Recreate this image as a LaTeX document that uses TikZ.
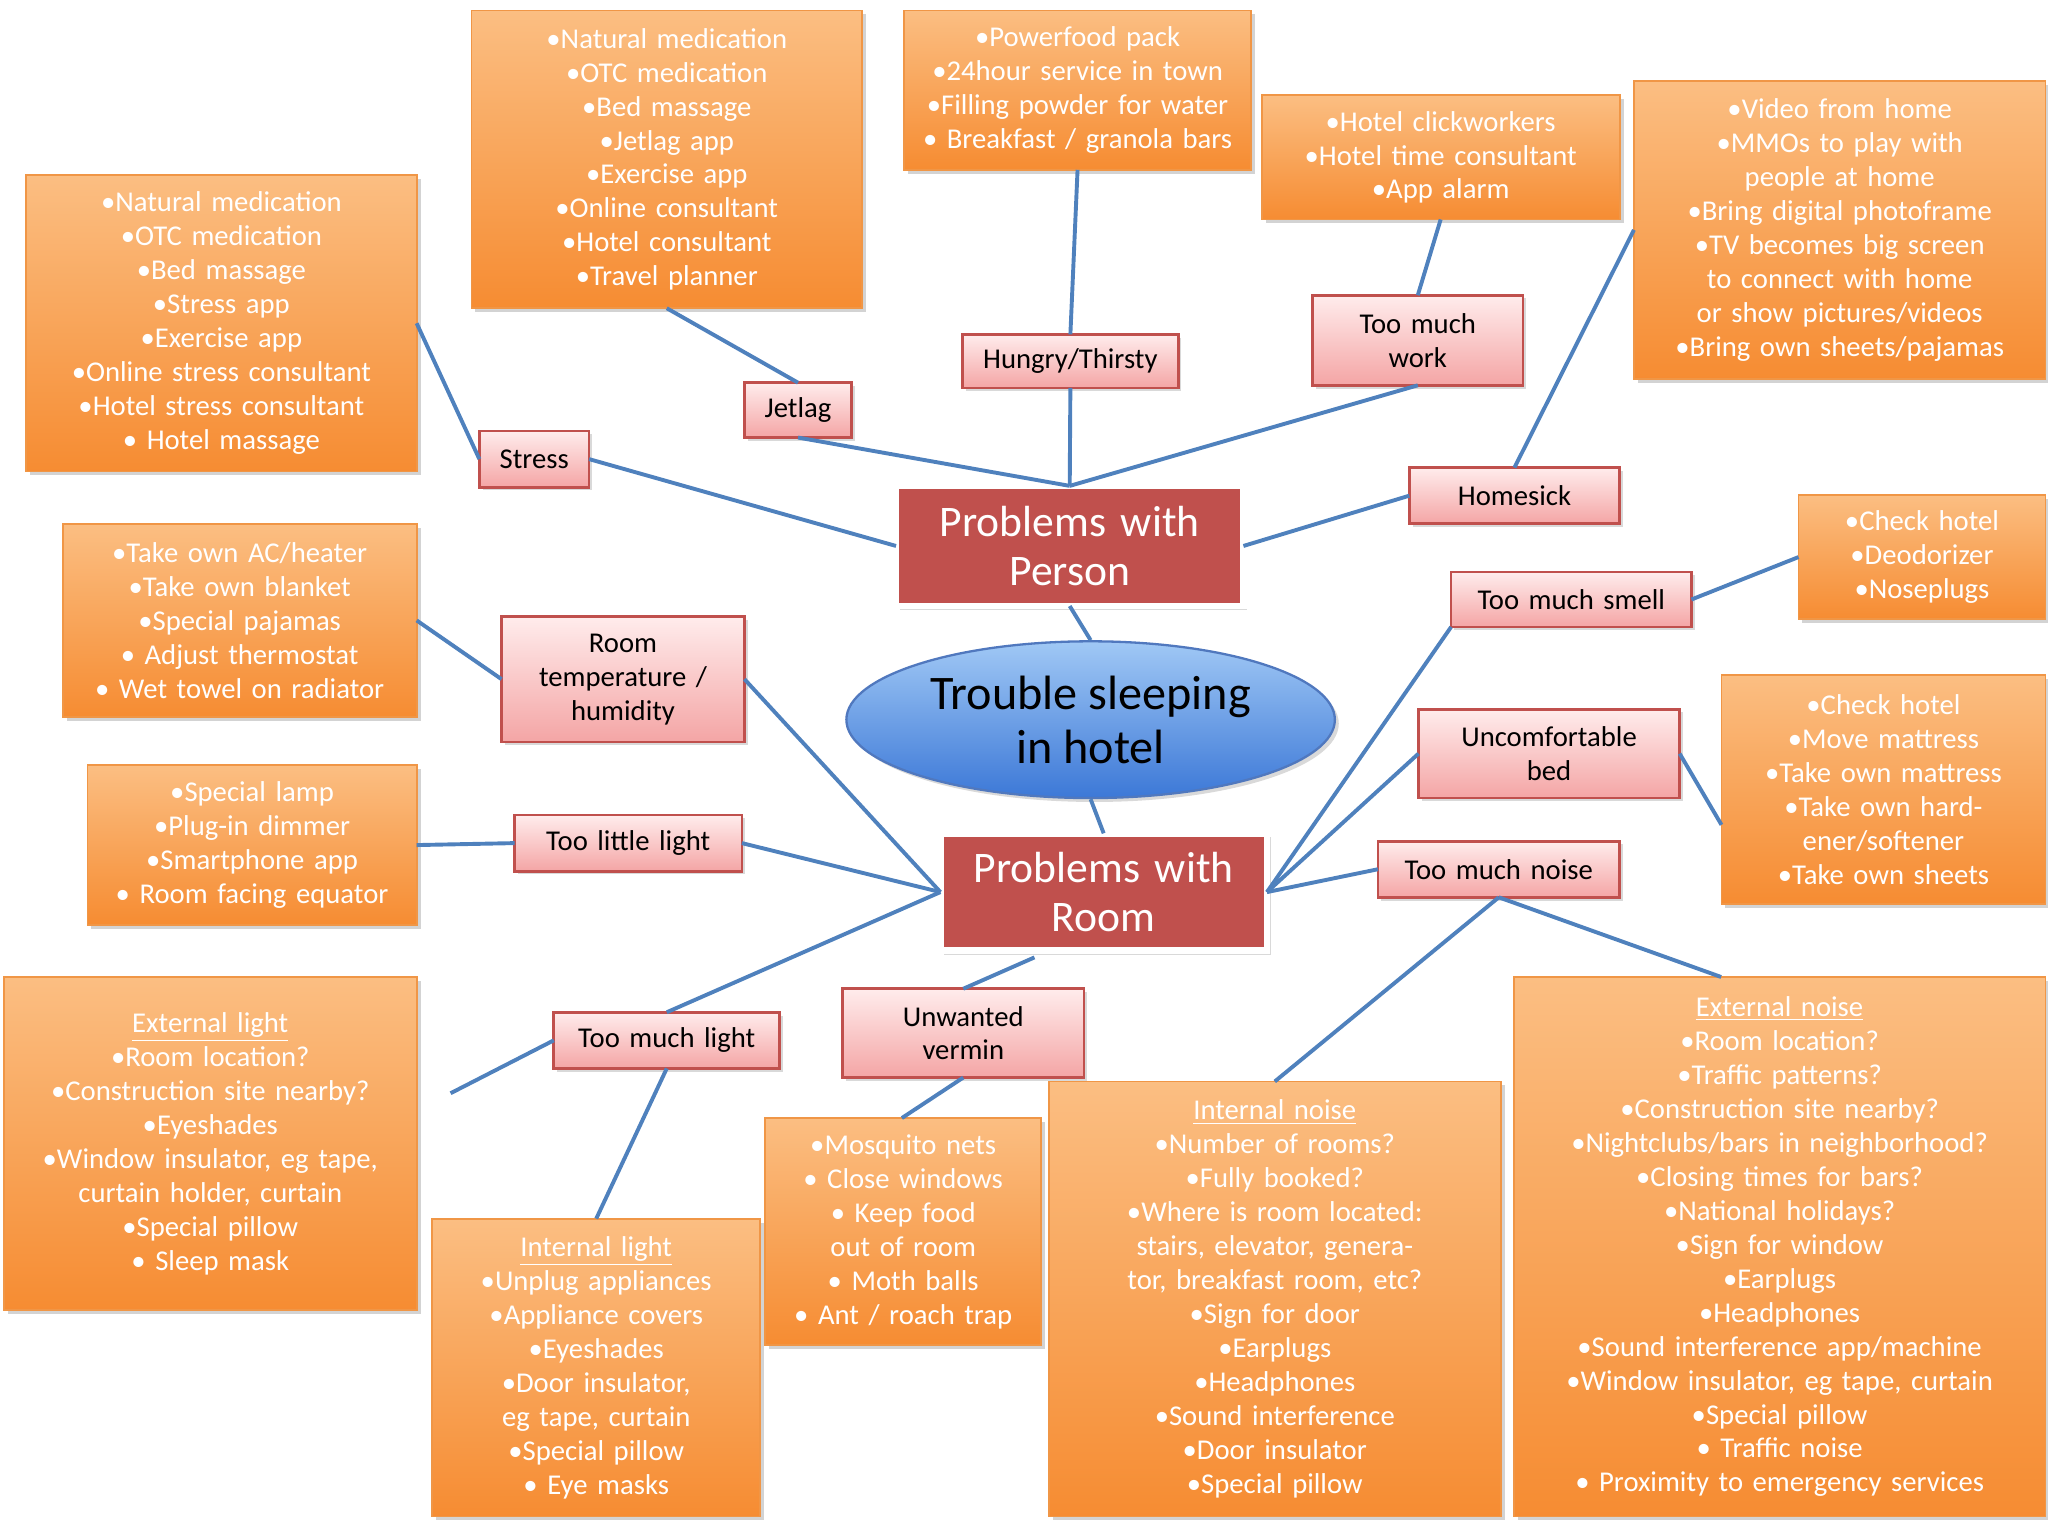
\documentclass[tikz,border=0pt]{standalone}
\usepackage{fontspec}
\setmainfont{Carlito}
\usetikzlibrary{shadows,calc,shapes.geometric}
\definecolor{lnc}{RGB}{79,129,189}
\definecolor{otop}{RGB}{251,190,130}
\definecolor{obot}{RGB}{246,140,50}
\definecolor{obrd}{RGB}{240,150,70}
\definecolor{ptop}{RGB}{255,236,236}
\definecolor{pbot}{RGB}{244,165,165}
\definecolor{pbrd}{RGB}{192,80,77}
\definecolor{rfill}{RGB}{192,80,77}
\newcommand\mybox[7]{%
 \pgfmathsetmacro\cx{(#3+#5)/2}\pgfmathsetmacro\cy{(#4+#6)/2}%
 \pgfmathsetmacro\ww{(#5-#3)*0.02}\pgfmathsetmacro\hh{(#6-#4)*0.02}%
 \pgfmathsetmacro\tw{(#5-#3)*0.02-0.2}%
 \node[#1, minimum width=\ww cm, minimum height=\hh cm, text width=\tw cm] (#2) at (\cx,\cy) {#7};}
\begin{document}
\begin{tikzpicture}[x=0.02cm,y=-0.02cm,
 ob/.style={draw=obrd,line width=0.8pt,top color=otop,bottom color=obot,inner sep=0pt,outer sep=0pt,align=center,text=white,font=\fontsize{12.5}{14.8}\selectfont,drop shadow={opacity=0.35,shadow xshift=0.06cm,shadow yshift=-0.06cm}},
 pb/.style={draw=pbrd,line width=1.2pt,top color=ptop,bottom color=pbot,inner sep=0pt,outer sep=0pt,align=center,text=black,font=\fontsize{12.5}{14.8}\selectfont,drop shadow={opacity=0.3,shadow xshift=0.05cm,shadow yshift=-0.05cm}},
 rb/.style={fill=rfill,draw=white,line width=3pt,inner sep=0pt,outer sep=0pt,align=center,text=white,font=\fontsize{19}{21}\selectfont,drop shadow={opacity=0.3,shadow xshift=0.06cm,shadow yshift=-0.06cm}},
 ln/.style={draw=lnc,line width=1.7pt}]
\useasboundingbox (0,0) rectangle (1568,1176);
% orange lists
\mybox{ob}{l1}{20}{134}{319}{361}{•Natural medication\\•OTC medication\\•Bed massage\\•Stress app\\•Exercise app\\•Online stress consultant\\•Hotel stress consultant\\• Hotel massage}
\mybox{ob}{l2}{361}{8}{660}{236}{•Natural medication\\•OTC medication\\•Bed massage\\•Jetlag app\\•Exercise app\\•Online consultant\\•Hotel consultant\\•Travel planner}
\mybox{ob}{l3}{692}{8}{958}{130}{•Powerfood pack\\•24hour service in town\\•Filling powder for water\\• Breakfast / granola bars}
\mybox{ob}{l4}{966}{73}{1240}{168}{•Hotel clickworkers\\•Hotel time consultant\\•App alarm}
\mybox{ob}{l5}{1251}{62}{1566}{290}{•Video from home\\•MMOs to play with people at home\\•Bring digital photoframe\\•TV becomes big screen to connect with home or show pictures/videos\\•Bring own sheets/pajamas}
\mybox{ob}{l6}{48}{401}{319}{549}{•Take own AC/heater\\•Take own blanket\\•Special pajamas\\• Adjust thermostat\\• Wet towel on radiator}
\mybox{ob}{l7}{67}{586}{319}{708}{•Special lamp\\•Plug-in dimmer\\•Smartphone app\\• Room facing equator}
\mybox{ob}{l8}{3}{748}{319}{1003}{\underline{External light}\\•Room location?\\•Construction site nearby?\\•Eyeshades\\•Window insulator, eg tape, curtain holder, curtain\\•Special pillow\\• Sleep mask}
\mybox{ob}{l9}{331}{933}{582}{1161}{\underline{Internal light}\\•Unplug appliances\\•Appliance covers\\•Eyeshades\\•Door insulator, eg tape, curtain\\•Special pillow\\• Eye masks}
\mybox{ob}{l10}{586}{856}{797}{1030}{•Mosquito nets\\• Close windows\\• Keep food out of room\\• Moth balls\\• Ant / roach trap}
\mybox{ob}{l11}{803}{828}{1149}{1161}{\underline{Internal noise}\\•Number of rooms?\\•Fully booked?\\•Where is room located: stairs, elevator, generator, breakfast room, etc?\\•Sign for door\\•Earplugs\\•Headphones\\•Sound interference\\•Door insulator\\•Special pillow}
\mybox{ob}{l12}{1159}{748}{1566}{1161}{\underline{External noise}\\•Room location?\\•Traffic patterns?\\•Construction site nearby?\\•Nightclubs/bars in neighborhood?\\•Closing times for bars?\\•National holidays?\\•Sign for window\\•Earplugs\\•Headphones\\•Sound interference app/machine\\•Window insulator, eg tape, curtain\\•Special pillow\\• Traffic noise\\• Proximity to emergency services}
\mybox{ob}{l13}{1377}{379}{1566}{474}{•Check hotel\\•Deodorizer\\•Noseplugs}
\mybox{ob}{l14}{1318}{517}{1566}{692}{•Check hotel\\•Move mattress\\•Take own mattress\\•Take own hardener/softener\\•Take own sheets}
% pink
\mybox{pb}{stress}{367}{330}{451}{373}{Stress}
\mybox{pb}{jetlag}{570}{293}{652}{335}{Jetlag}
\mybox{pb}{hungry}{737}{256}{902}{297}{Hungry/Thirsty}
\mybox{pb}{work}{1005}{226}{1166}{295}{Too much\\work}
\mybox{pb}{home}{1079}{358}{1240}{401}{Homesick}
\mybox{pb}{smell}{1111}{438}{1295}{480}{Too much smell}
\mybox{pb}{temp}{384}{472}{570}{568}{Room\\temperature /\\humidity}
\mybox{pb}{bed}{1086}{543}{1286}{611}{Uncomfortable\\bed}
\mybox{pb}{little}{394}{624}{568}{667}{Too little light}
\mybox{pb}{noise}{1055}{644}{1240}{687}{Too much noise}
\mybox{pb}{muchl}{424}{775}{597}{818}{Too much light}
\mybox{pb}{vermin}{645}{757}{830}{825}{Unwanted\\vermin}
% red
\mybox{rb}{person}{686}{372}{952}{464}{Problems with\\Person}
\mybox{rb}{room}{720}{638}{970}{728}{Problems with\\Room}
\node[ellipse,draw={rgb,255:red,80;green,120;blue,190},line width=1pt,top color={rgb,255:red,160;green,200;blue,245},bottom color={rgb,255:red,60;green,120;blue,215},minimum width=374*0.02cm,minimum height=120*0.02cm,inner sep=0pt,align=center,font=\fontsize{21}{23.5}\selectfont,drop shadow={opacity=0.3,shadow xshift=0.06cm,shadow yshift=-0.06cm}] (center) at (835,551) {Trouble sleeping\\in hotel};
% connectors
\coordinate (freel) at (345,837);
\coordinate (vroom) at (792,733);
\draw[ln] (l1.east) -- (stress.west);
\draw[ln] (stress.east) -- (person.west);
\draw[ln] (l2.south) -- (jetlag.north);
\draw[ln] (jetlag.south) -- (person.north);
\draw[ln] (l3.south) -- (hungry.north);
\draw[ln] (hungry.south) -- (person.north);
\draw[ln] (work.south) -- (person.north);
\draw[ln] (l4.south) -- (work.north);
\draw[ln] (l5.west) -- (home.north);
\draw[ln] (home.west) -- (person.east);
\draw[ln] (person.south) -- (center.north);
\draw[ln] (center.south) -- (room.north);
\draw[ln] (temp.east) -- (room.west);
\draw[ln] (temp.west) -- (l6.east);
\draw[ln] (little.east) -- (room.west);
\draw[ln] (l7.east) -- (little.west);
\draw[ln] (muchl.north) -- (room.west);
\draw[ln] (muchl.west) -- (freel);
\draw[ln] (muchl.south) -- (l9.north);
\draw[ln] (vermin.north) -- (vroom);
\draw[ln] (vermin.south) -- ($(l10.north)+(-1,0)$);
\draw[ln] (room.east) -- (smell.south west);
\draw[ln] (room.east) -- (bed.west);
\draw[ln] (room.east) -- (noise.west);
\draw[ln] (noise.south) -- (l11.north);
\draw[ln] (noise.south) -- ($(l12.north west)!0.39!(l12.north east)$);
\draw[ln] (smell.east) -- (l13.west);
\draw[ln] (bed.east) -- ($(l14.west)+(0,27)$);
\end{tikzpicture}
\end{document}
